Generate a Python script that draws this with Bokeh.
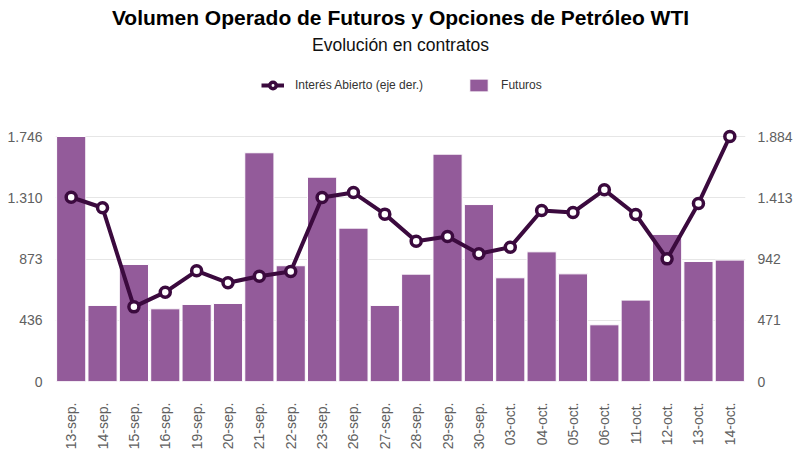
import math
from bokeh.plotting import figure
from bokeh.models import (Range1d, LinearAxis, FixedTicker, Legend, LegendItem, Label)
from bokeh.embed import file_html
from bokeh.resources import INLINE

dates = ["13-sep.", "14-sep.", "15-sep.", "16-sep.", "19-sep.", "20-sep.", "21-sep.",
         "22-sep.", "23-sep.", "26-sep.", "27-sep.", "28-sep.", "29-sep.", "30-sep.",
         "03-oct.", "04-oct.", "05-oct.", "06-oct.", "11-oct.", "12-oct.", "13-oct.", "14-oct."]
futuros = [1746, 542, 834, 518, 549, 556, 1630, 825, 1456, 1093, 542,
           765, 1620, 1261, 739, 924, 767, 404, 580, 1048, 855, 865]
interes = [1417, 1336, 574, 687, 851, 759, 810, 846, 1415, 1453, 1287,
           1079, 1115, 982, 1033, 1315, 1300, 1474, 1284, 943, 1369, 1884]
left_ticks = [0, 436, 873, 1310, 1746]
left_labels = ["0", "436", "873", "1.310", "1.746"]
right_ticks = [0, 471, 942, 1413, 1884]
right_labels = ["0", "471", "942", "1.413", "1.884"]
title_text = "Volumen Operado de Futuros y Opciones de Petróleo WTI"
subtitle_text = "Evolución en contratos"
series_names = ["Interés Abierto (eje der.)", "Futuros"]

BAR = "#935B9A"
LINE = "#3B0A3E"
FONT = "Liberation Sans"
TXT = "#606060"

W, H = 800, 457
BL, BR, BT, BB = 55, 55, 0, 76
frame_h = H - BT - BB          # 381
plot_h = 245                   # pixel height between 0 and the axis maxima
left_end = left_ticks[-1] * frame_h / plot_h
right_end = right_ticks[-1] * frame_h / plot_h

p = figure(width=W, height=H, x_range=dates, y_range=Range1d(0, left_end),
           output_backend="svg", toolbar_location=None, title=None,
           min_border_left=BL, min_border_right=BR, min_border_top=BT, min_border_bottom=BB)
p.title_location = None
p.extra_y_ranges = {"right": Range1d(0, right_end)}
p.outline_line_color = None
p.background_fill_color = "white"
p.border_fill_color = "white"
p.x_range.range_padding = 0

bars = p.vbar(x=dates, top=futuros, width=0.93, fill_color=BAR, line_color="white", line_width=1)
ln = p.line(x=dates, y=interes, y_range_name="right", line_color=LINE, line_width=4)
pts = p.scatter(x=dates, y=interes, y_range_name="right", size=10, fill_color="white",
                line_color=LINE, line_width=3.5)

# grid
p.xgrid.grid_line_color = None
p.ygrid.ticker = FixedTicker(ticks=left_ticks)
p.ygrid.grid_line_color = "#e6e6e6"
p.ygrid.grid_line_width = 1


def style_axis(ax, standoff):
    ax.axis_line_color = None
    ax.major_tick_line_color = None
    ax.minor_tick_line_color = None
    ax.major_label_text_font = FONT
    ax.major_label_text_font_size = "14px"
    ax.major_label_text_color = TXT
    ax.major_label_standoff = standoff


ya = p.yaxis[0]
ya.ticker = FixedTicker(ticks=left_ticks)
ya.major_label_overrides = {t: l for t, l in zip(left_ticks, left_labels)}
style_axis(ya, 7)

ra = LinearAxis(y_range_name="right", ticker=FixedTicker(ticks=right_ticks))
ra.major_label_overrides = {t: l for t, l in zip(right_ticks, right_labels)}
style_axis(ra, 6)
p.add_layout(ra, "right")

xa = p.xaxis[0]
xa.major_label_orientation = math.pi / 2
style_axis(xa, 15)

# legend
legend = Legend(items=[LegendItem(label=series_names[0], renderers=[ln, pts]),
                       LegendItem(label=series_names[1], renderers=[bars])],
                location=(206, 288), orientation="horizontal",
                background_fill_alpha=0, border_line_alpha=0,
                label_text_font=FONT, label_text_font_size="12px", label_text_color="#333333",
                glyph_width=23, glyph_height=16, spacing=44, label_standoff=11,
                padding=0, margin=0)
p.add_layout(legend)

# titles (drawn in screen units inside the frame area)
p.add_layout(Label(x=345, y=frame_h - 17, x_units="screen", y_units="screen",
                   text=title_text, text_align="center", text_baseline="middle",
                   text_font=FONT, text_font_size="21px", text_font_style="bold",
                   text_color="#000000"))
p.add_layout(Label(x=345, y=frame_h - 44, x_units="screen", y_units="screen",
                   text=subtitle_text, text_align="center", text_baseline="middle",
                   text_font=FONT, text_font_size="17.5px", text_font_style="normal",
                   text_color="#111111"))

open("out.html", "w").write(file_html(p, INLINE))
